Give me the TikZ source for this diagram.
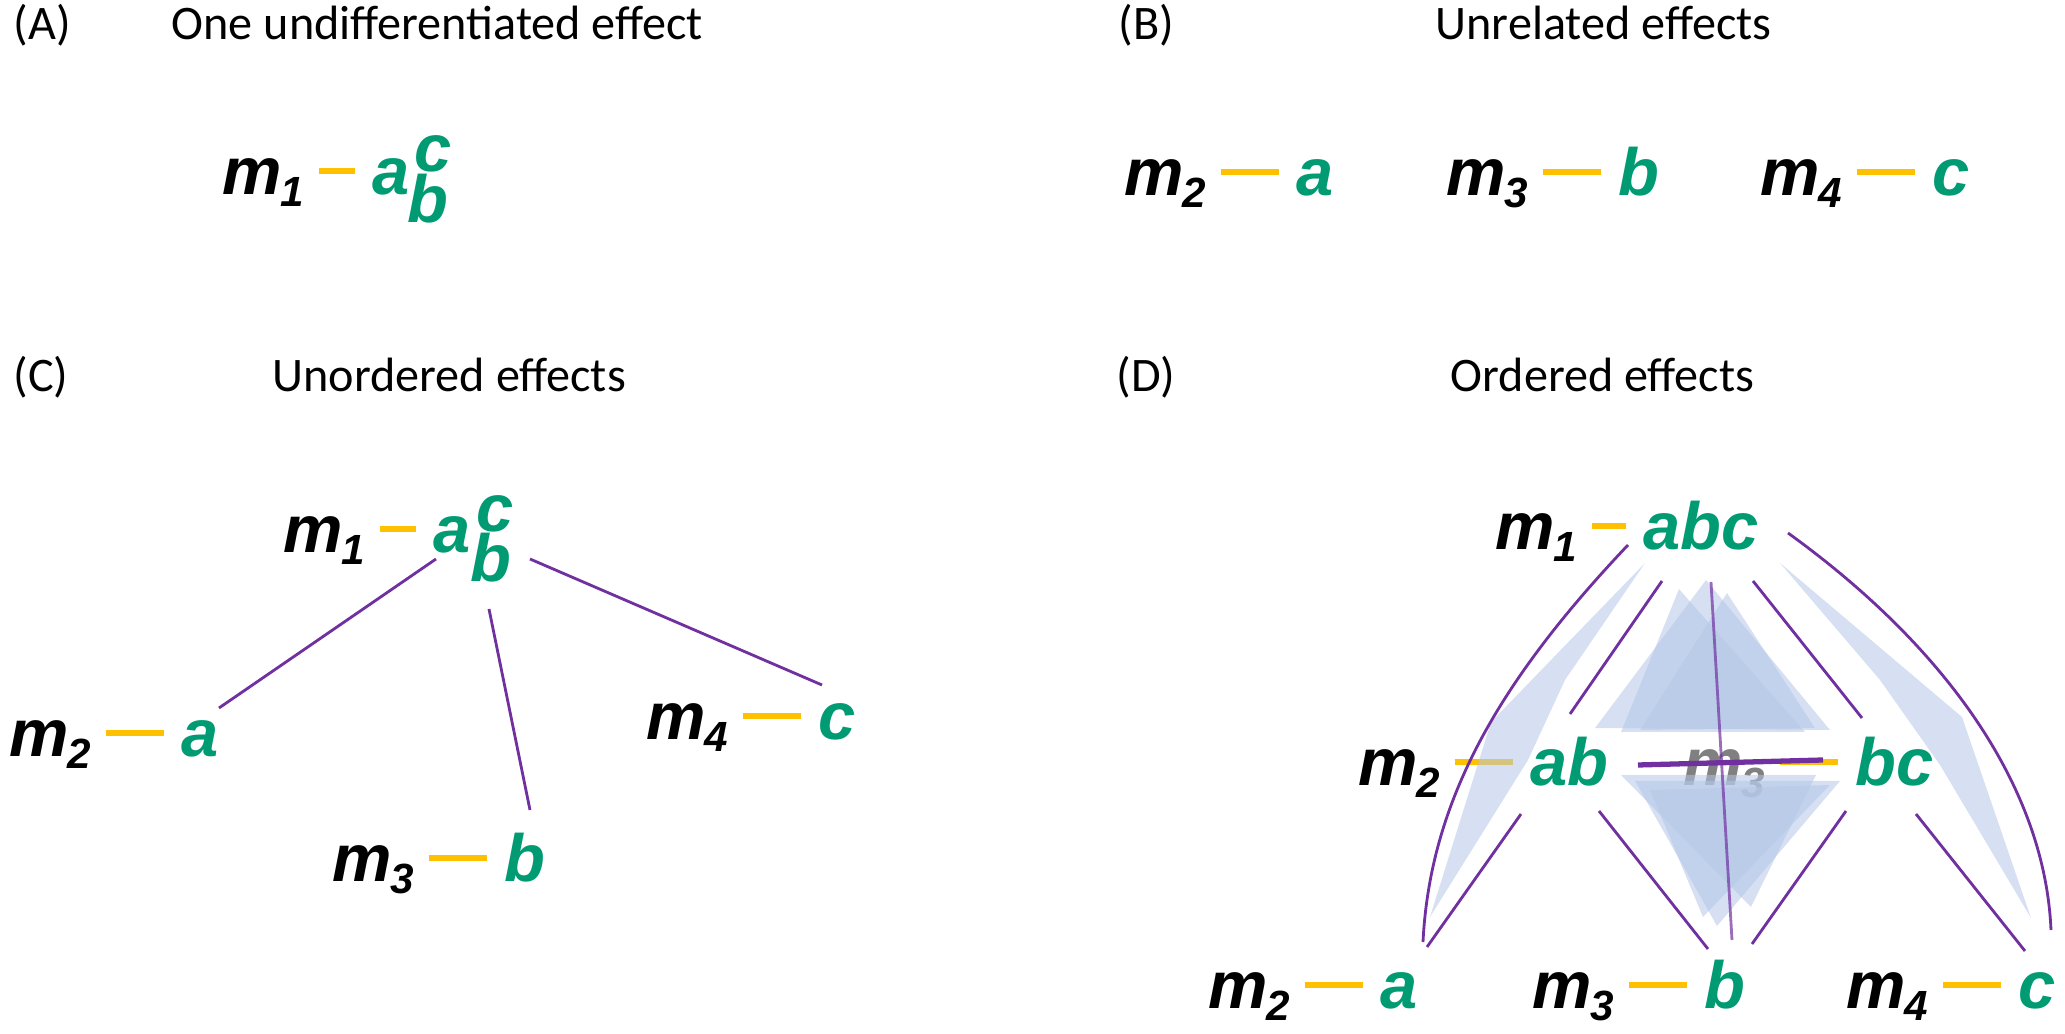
\documentclass[tikz,border=0pt]{standalone}
\usepackage{fontspec}
\usepackage{tikz}
\newfontfamily\titfont{Carlito}
\newfontfamily\labfont{Liberation Sans}
\definecolor{effc}{RGB}{0,155,114}
\definecolor{dashc}{RGB}{255,192,0}
\definecolor{linkc}{RGB}{112,48,160}
\definecolor{conec}{RGB}{180,199,231}

% m with index
\newcommand\mlab[1]{m\hspace{-0.02cm}\raisebox{-0.12cm}{\fontsize{12}{12}\selectfont #1}}
% m_i -- effect letters
\newcommand\eff[3][0.58cm]{\mlab{#2}\hspace{0.15cm}\textcolor{dashc}{\rule[0.21cm]{#1}{0.06cm}}\hspace{0.18cm}\textcolor{effc}{#3}}

\tikzset{
  title/.style={anchor=base west, inner sep=0pt, font=\titfont\fontsize{13.7}{13.7}\selectfont},
  lab/.style={anchor=base west, inner sep=0pt, font=\labfont\bfseries\itshape\fontsize{19}{19}\selectfont},
  green lab/.style={lab, text=effc},
  link/.style={linkc, line width=0.8pt},
  cone/.style={fill=conec, fill opacity=0.55, draw=none}
}

\begin{document}
\begin{tikzpicture}[x=0.01cm, y=-0.01cm]
  \useasboundingbox (0,0) rectangle (2065,1034);

  % Titles
  \node[title] (tA)  at (13,40)   {(A)};
  \node[title] (tA2) at (171,40)  {One undifferentiated effect};
  \node[title] (tB)  at (1118,40) {(B)};
  \node[title] (tB2) at (1435,40) {Unrelated effects};
  \node[title] (tC)  at (13,392)  {(C)};
  \node[title] (tC2) at (272,392) {Unordered effects};
  \node[title] (tD)  at (1116,392) {(D)};
  \node[title] (tD2) at (1450,392) {Ordered effects};

  % (A) one undifferentiated effect
  \node[lab] (A1) at (222,195) {\eff[0.36cm]{1}{a}};
  \node[green lab] (A1c) at (414,172) {c};
  \node[green lab] (A1b) at (407,223) {b};

  % (B) unrelated effects
  \node[lab] (B2) at (1124,196) {\eff{2}{a}};
  \node[lab] (B3) at (1446,196) {\eff{3}{b}};
  \node[lab] (B4) at (1760,196) {\eff{4}{c}};

  % (C) unordered effects
  \node[lab] (C1) at (283,553) {\eff[0.36cm]{1}{a}};
  \node[green lab] (C1c) at (476,532) {c};
  \node[green lab] (C1b) at (470,582) {b};
  \node[lab] (C2) at (9,757)   {\eff{2}{a}};
  \node[lab] (C3) at (332,882) {\eff{3}{b}};
  \node[lab] (C4) at (646,740) {\eff{4}{c}};

  \coordinate (c1a) at (436,559); \coordinate (c2) at (219,708);
  \coordinate (c1b) at (489,609); \coordinate (c3) at (530,810);
  \coordinate (c1c) at (530,559); \coordinate (c4) at (822,685);
  \draw[link] (c1a) -- (c2);
  \draw[link] (c1b) -- (c3);
  \draw[link] (c1c) -- (c4);

  % (D) ordered effects
  \node[lab] (D1)  at (1495,550)  {\eff[0.34cm]{1}{abc}};
  \node[lab] (D12) at (1358,786)  {\eff{2}{ab}};
  \node[lab] (D23) at (1683,786)  {\textcolor{gray}{\mlab{3}}\hspace{0.15cm}\textcolor{dashc}{\rule[0.21cm]{0.58cm}{0.06cm}}\hspace{0.18cm}\textcolor{effc}{bc}};
  \node[lab] (D2)  at (1208,1009) {\eff{2}{a}};
  \node[lab] (D3)  at (1532,1009) {\eff{3}{b}};
  \node[lab] (D4)  at (1846,1009) {\eff{4}{c}};

  % shaded cones
  \fill[cone] (1645,563) -- (1491,722) -- (1430,917) -- (1528,760) -- (1565,680) -- cycle;
  \fill[cone] (1780,563) -- (1962,717) -- (2031,918) -- (1940,765) -- (1880,680) -- cycle;
  \fill[cone] (1706,580) -- (1595,728) -- (1830,730) -- cycle;
  \fill[cone] (1679,589) -- (1621,732) -- (1805,732) -- cycle;
  \fill[cone] (1727,593) -- (1640,730) -- (1815,728) -- cycle;
  \fill[cone] (1635,781) -- (1840,781) -- (1717,926) -- cycle;
  \fill[cone] (1621,775) -- (1816,775) -- (1751,907) -- cycle;
  \fill[cone] (1650,790) -- (1830,785) -- (1703,917) -- cycle;

  \coordinate (d1l) at (1628,545);  \coordinate (d2l) at (1423,942);
  \coordinate (d1r) at (1788,533);  \coordinate (d4r) at (2051,930);
  \coordinate (d1a) at (1662,581);  \coordinate (d12t) at (1570,714);
  \coordinate (d1b) at (1711,582);  \coordinate (d3t) at (1732,940);
  \coordinate (d1c) at (1753,581);  \coordinate (d23t) at (1862,718);
  \coordinate (d12a) at (1521,814); \coordinate (d2t) at (1427,947);
  \coordinate (d12b) at (1599,811); \coordinate (d3l) at (1708,949);
  \coordinate (d23b) at (1846,811); \coordinate (d3r) at (1752,944);
  \coordinate (d23c) at (1916,814); \coordinate (d4t) at (2025,951);
  \coordinate (dhl) at (1638,765);  \coordinate (dhr) at (1823,760);

  \draw[link] (d1l) .. controls (1500,680) and (1430,800) .. (d2l);
  \draw[link] (d1r) .. controls (1950,650) and (2045,790) .. (d4r);
  \draw[link] (d1a) -- (d12t);
  \draw[link, opacity=0.7] (d1b) -- (d3t);
  \draw[link] (d1c) -- (d23t);
  \draw[link] (d12a) -- (d2t);
  \draw[link] (d12b) -- (d3l);
  \draw[link] (d23b) -- (d3r);
  \draw[link] (d23c) -- (d4t);
  \draw[link, line width=1.5pt] (dhl) -- (dhr);
\end{tikzpicture}
\end{document}
